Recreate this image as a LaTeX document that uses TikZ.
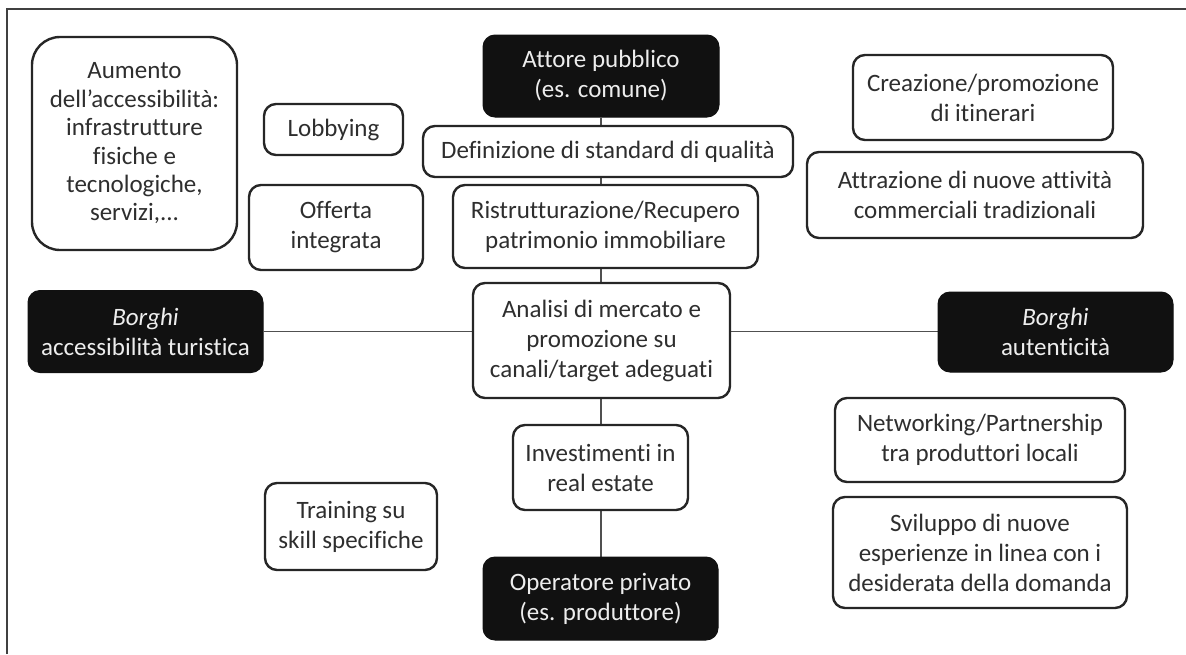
\documentclass[tikz,border=0pt]{standalone}
\usepackage{fontspec}
\setmainfont{Carlito}[Ligatures={NoCommon}]
\usetikzlibrary{backgrounds}
\definecolor{txt}{HTML}{2E2E2E}
\definecolor{edge}{HTML}{262626}
\definecolor{conn}{HTML}{505050}
\definecolor{dark}{HTML}{111111}
\tikzset{
  base/.style={rounded corners=12pt, inner sep=0pt, align=center,
    font=\fontsize{25}{30}\selectfont},
  wbox/.style={base, draw=edge, line width=2.4pt, fill=white, text=txt},
  bbox/.style={base, draw=dark, line width=1pt, fill=dark, text=white!93!black},
  conn/.style={draw=conn, line width=1.4pt},
  frame/.style={draw=black!75, line width=1.3pt}
}
\begin{document}
\begin{tikzpicture}[x=1pt,y=-1pt]
\useasboundingbox (0,0) rectangle (1186,654);
\coordinate (fa) at (7,654);
\coordinate (fb) at (7,9);
\coordinate (fc) at (1186,9);
\draw[frame] (fa) -- (fb) -- (fc);

\node[wbox, rounded corners=28pt, minimum width=205pt, minimum height=213pt,
  font=\fontsize{25}{28.4}\selectfont] (aum) at (134.5,143.5)
  {Aumento\\dell’accessibilità:\\infrastrutture\\fisiche e\\tecnologiche,\\servizi,...};
\node[wbox, minimum width=139pt, minimum height=51pt] (lob) at (333.5,129.5) {Lobbying};
\node[wbox, minimum width=174pt, minimum height=85pt] (off) at (336,227.5) {Offerta\\integrata};
\node[wbox, minimum width=172pt, minimum height=87pt] (trn) at (351,526.5) {Training su\\skill specifiche};

\node[bbox, minimum width=236pt, minimum height=82pt] (att) at (601,76) {Attore pubblico\\(es. comune)};
\node[wbox, minimum width=370pt, minimum height=51pt] (def) at (608,151.5) {Definizione di standard di qualità};
\node[wbox, minimum width=305pt, minimum height=83pt] (ris) at (605.5,226.5) {Ristrutturazione/Recupero\\patrimonio immobiliare};
\node[wbox, minimum width=257pt, minimum height=115pt] (ana) at (601.5,340.5) {Analisi di mercato e\\promozione su\\canali/target adeguati};
\node[wbox, minimum width=175pt, minimum height=85pt] (inv) at (600.5,467.5) {Investimenti in\\real estate};
\node[bbox, minimum width=235pt, minimum height=83pt] (ope) at (600.5,598.5) {Operatore privato\\(es. produttore)};

\node[wbox, minimum width=260pt, minimum height=85pt] (cre) at (983,97.5) {Creazione/promozione\\di itinerari};
\node[wbox, minimum width=336pt, minimum height=86pt] (atr) at (975,195) {Attrazione di nuove attività\\commerciali tradizionali};
\node[bbox, minimum width=235pt, minimum height=82pt] (bac) at (145.5,331.5) {\textit{Borghi}\\accessibilità turistica};
\node[bbox, minimum width=235pt, minimum height=80pt] (bau) at (1055.5,332) {\textit{Borghi}\\autenticità};
\node[wbox, minimum width=290pt, minimum height=84pt] (net) at (980,440) {Networking/Partnership\\tra produttori locali};
\node[wbox, minimum width=294pt, minimum height=111pt] (svi) at (980,552.5) {Sviluppo di nuove\\esperienze in linea con i\\desiderata della domanda};

\begin{pgfonlayer}{background}
\draw[conn] (att.south) -- (att.south |- ope.north);
\draw[conn] (bac.east) -- (bac.east -| bau.west);
\end{pgfonlayer}
\end{tikzpicture}
\end{document}
